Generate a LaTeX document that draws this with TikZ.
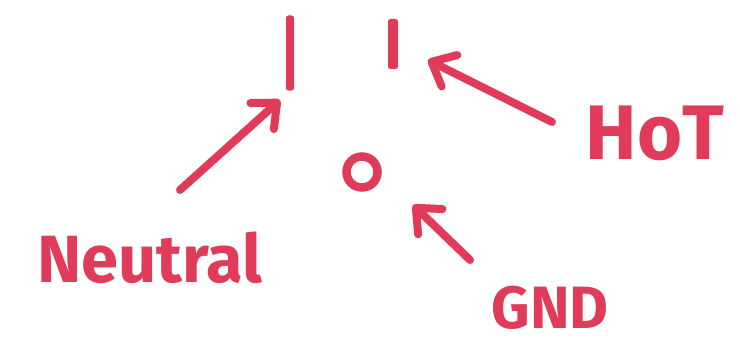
\documentclass[tikz,border=0pt]{standalone}
\usepackage{fontspec}
\setsansfont{Fira Sans}
\usepackage{xcolor}
\definecolor{Marker}{HTML}{E03C5A}
\usepackage{tikz}
\usetikzlibrary{arrows.meta,positioning}
\tikzset{
  slotnode/.style={
    fill=Marker,
    rounded corners=0.5mm,
    inner sep=0pt,
    minimum width=1.6mm
  },
  gndnode/.style={
    circle,
    draw=Marker,
    line width=1.7mm,
    inner sep=0pt,
    minimum size=6.2mm
  },
  labelnode/.style={
    text=Marker,
    inner sep=0pt
  },
  pointarrow/.style={
    -{Straight Barb[length=4mm,width=7mm,line cap=round,line join=round]},
    line width=1.6mm,
    line cap=round,
    draw=Marker
  }
}

\begin{document}
\begin{tikzpicture}[x=0.2mm,y=-0.2mm]
\useasboundingbox (0,0) rectangle (740,344);
% outlet face
\node[slotnode, minimum height=15mm] (neutralslot) at (290,53) {};
\node[slotnode, minimum height=10mm, minimum width=2mm] (hotslot) at (393,44) {};
\node[gndnode] (gndhole) at (362,172) {};
% labels
\node[labelnode, font=\sffamily\bfseries\fontsize{38}{38}\selectfont] (neutral) at (150,258) {Neutral};
\node[labelnode, font=\sffamily\bfseries\fontsize{44}{44}\selectfont] (hot) at (655,133) {HoT};
\node[labelnode, font=\sffamily\bfseries\fontsize{34}{34}\selectfont] (gnd) at (550,308) {GND};
% arrow ends
\coordinate (neutraltail) at (180,190);
\coordinate (neutraltip) at (280,100);
\coordinate (hottail) at (552,122);
\coordinate (hottip) at (428,60);
\coordinate (gndtail) at (470,260);
\coordinate (gndtip) at (413,205);
\draw[pointarrow] (neutraltail) -- (neutraltip);
\draw[pointarrow] (hottail) -- (hottip);
\draw[pointarrow] (gndtail) -- (gndtip);
\end{tikzpicture}
\end{document}
